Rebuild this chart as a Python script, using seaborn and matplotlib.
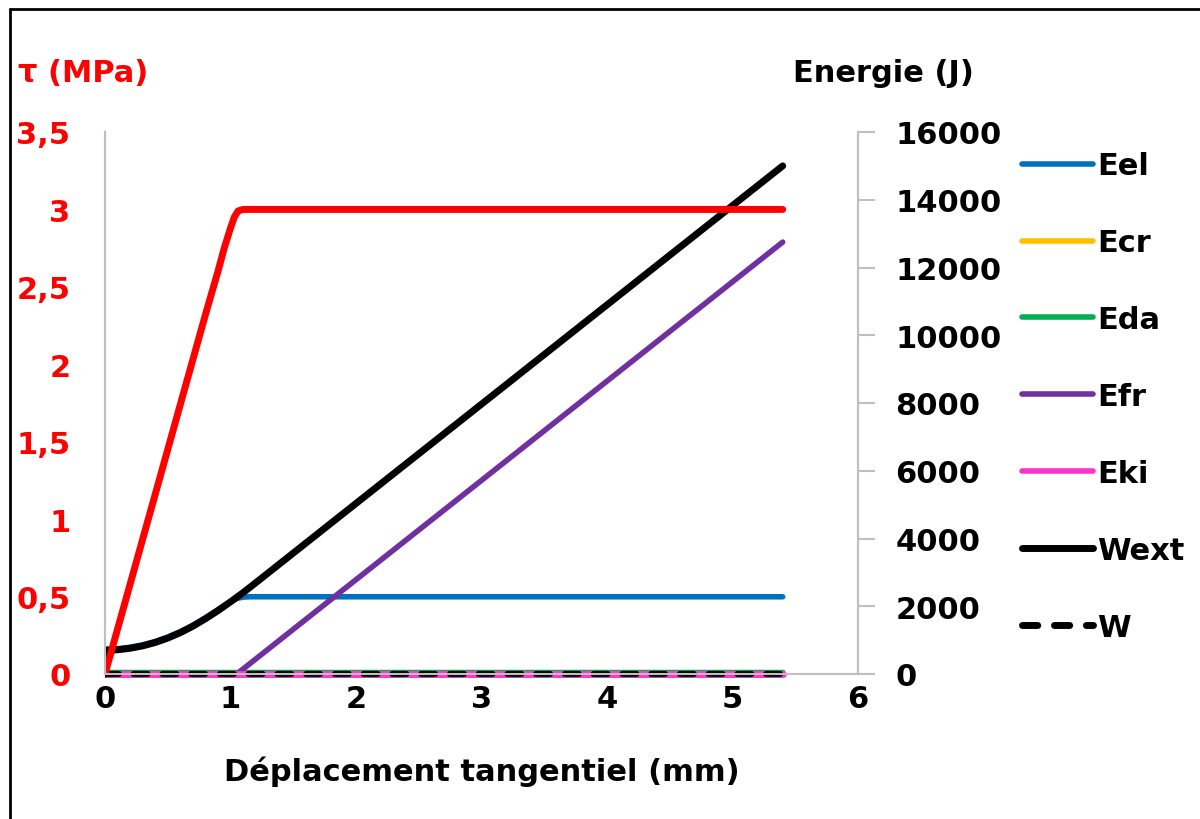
import matplotlib.pyplot as plt
import seaborn as sns
from matplotlib.lines import Line2D
from matplotlib.transforms import Bbox, TransformedBbox

# displacement (mm) and shear stress (MPa)
x_tau = [0, 0.2, 0.4, 0.6, 0.8, 0.9, 0.95, 1.0, 1.03, 1.06, 1.1, 1.15, 5.4]
tau = [0, 0.58, 1.16, 1.74, 2.32, 2.6, 2.75, 2.88, 2.95, 2.99, 3.0, 3.0, 3.0]

# energies (J)
x_wext = [0, 0.0, 0.1, 0.2, 0.3, 0.4, 0.5, 0.6, 0.7, 0.8, 0.9, 1.0, 1.1, 1.2, 5.4]
wext = [0, 700, 715, 760, 830, 930, 1060, 1220, 1410, 1630, 1870, 2130, 2400, 2690, 15000]

x_eel = [0, 0.1, 0.2, 0.3, 0.4, 0.5, 0.6, 0.7, 0.8, 0.9, 1.0, 1.05, 1.1, 1.15, 5.4]
eel = [730, 745, 790, 860, 960, 1090, 1250, 1440, 1660, 1900, 2140, 2230, 2270, 2280, 2280]

x_efr = [0, 1.05, 5.4]
efr = [0, 0, 12750]

x_zero = [0, 5.4]
ecr = [0, 0]
eda = [100, 100]
eki = [0, 0]
w = [0, 0]

tau_ticks = [0, 0.5, 1, 1.5, 2, 2.5, 3, 3.5]
tau_labels = ["0", "0,5", "1", "1,5", "2", "2,5", "3", "3,5"]
energy_ticks = [0, 2000, 4000, 6000, 8000, 10000, 12000, 14000, 16000]
x_ticks = [0, 1, 2, 3, 4, 5, 6]

sns.set_theme(style="white")
plt.rcParams["font.family"] = ["DejaVu Sans"]
plt.rcParams["font.weight"] = "bold"
plt.rcParams["text.color"] = "black"
plt.rcParams["axes.labelcolor"] = "black"

fig = plt.figure(figsize=(12, 8.2), dpi=100)
ax = fig.add_axes([105 / 1200, 1 - 675 / 820, (858 - 105) / 1200, (675 - 133) / 820])
ax_tau = ax.twinx()

grey = "#bfbfbf"
fs = 22
dash = (0, (2.2, 2.4))
# plot area clip, a few pixels lower than the x axis as in the original
low_clip = TransformedBbox(Bbox([[0.0, -0.007], [1.0, 1.0]]), ax.transAxes)

# energy series (right axis)
series = [
    (x_eel, eel, "Eel", "#0070c0", 4, 4),
    (x_zero, ecr, "Ecr", "#ffc000", 4, 4),
    (x_zero, eda, "Eda", "#00b050", 4, 2.5),
    (x_efr, efr, "Efr", "#7030a0", 4, 4),
    (x_zero, eki, "Eki", "#ff33cc", 4, 5),
    (x_wext, wext, "Wext", "black", 5, 5),
]
handles = []
for xs, ys, name, col, lw_leg, lw in series:
    sns.lineplot(x=xs, y=ys, ax=ax, color=col, lw=lw, sort=False, estimator=None,
                 solid_capstyle="round")
    ax.lines[-1].set_clip_box(low_clip)
    handles.append(Line2D([], [], color=col, lw=lw_leg, solid_capstyle="round", label=name))
sns.lineplot(x=x_zero, y=w, ax=ax, color="black", lw=4.5, sort=False, estimator=None)
w_line = ax.lines[-1]
w_line.set_linestyle(dash)
w_line.set_dash_capstyle("round")
w_line.set_zorder(5)
w_line.set_clip_box(low_clip)
handles.append(Line2D([], [], color="black", lw=5, linestyle=dash,
                      dash_capstyle="round", label="W"))

# shear stress (left axis)
sns.lineplot(x=x_tau, y=tau, ax=ax_tau, color="red", lw=5, sort=False, estimator=None,
             solid_capstyle="round")

ax.set_xlim(0, 6)
ax.set_ylim(0, 16000)
ax_tau.set_ylim(0, 3.5)

ax.yaxis.tick_right()
ax_tau.yaxis.tick_left()
ax.set_yticks(energy_ticks)
ax.set_yticklabels([str(v) for v in energy_ticks])
ax_tau.set_yticks(tau_ticks)
ax_tau.set_yticklabels(tau_labels)
ax.set_xticks(x_ticks)

ax.tick_params(axis="y", right=True, left=False, length=12, color=grey, width=1.5,
               pad=15, labelsize=fs, labelcolor="black")
ax_tau.tick_params(axis="y", left=True, right=False, length=0, pad=25, labelsize=fs,
                   labelcolor="red")
ax.tick_params(axis="x", bottom=False, length=0, pad=7, labelsize=fs, labelcolor="black")
for lab in ax.get_yticklabels() + ax.get_xticklabels() + ax_tau.get_yticklabels():
    lab.set_fontweight("bold")

for a in (ax, ax_tau):
    a.spines["top"].set_visible(False)
    for s in ("left", "right", "bottom"):
        a.spines[s].set_color(grey)
        a.spines[s].set_linewidth(1.5)
ax.set_ylabel("")
ax_tau.set_ylabel("")

ax.set_xlabel("Déplacement tangentiel (mm)", fontsize=fs, fontweight="bold", labelpad=31)

fig.text(18 / 1200, 1 - 73 / 820, "τ (MPa)", color="red", fontsize=fs, fontweight="bold",
         va="center", ha="left")
fig.text(793 / 1200, 1 - 73 / 820, "Energie (J)", color="black", fontsize=fs,
         fontweight="bold", va="center", ha="left")

fig.legend(handles=handles, loc="upper left", bbox_to_anchor=(1010 / 1200, 1 - 140 / 820),
           frameon=False, handlelength=2.3, handletextpad=0.15, labelcolor="black",
           labelspacing=1.57, borderaxespad=0, prop={"weight": "bold", "size": fs})

# frame lines of the original figure
fig.add_artist(Line2D([10 / 1200, 10 / 1200], [0, 1 - 10 / 820], color="black", lw=2))
fig.add_artist(Line2D([10 / 1200, 1], [1 - 10 / 820, 1 - 10 / 820], color="black", lw=2))

fig.savefig("out.png", dpi=100)
